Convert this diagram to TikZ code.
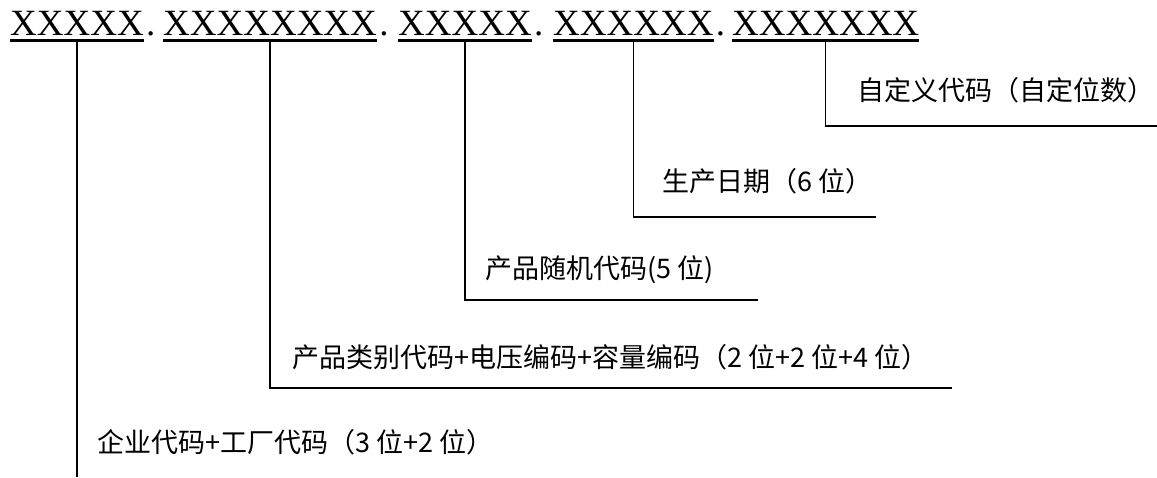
\documentclass[tikz,border=0pt]{standalone}
\usepackage{fontspec}
\setmainfont{Liberation Serif}
\newfontfamily\cjk{Noto Sans CJK SC}
\usetikzlibrary{positioning}
\tikzset{>=stealth}
\tikzset{
  code/.style={inner sep=0pt,anchor=base west,font=\fontsize{37}{40}\selectfont},
  note/.style={inner sep=0pt,anchor=west,font=\cjk\fontsize{27}{30}\selectfont},
  uline/.style={line width=3pt},
  lead/.style={line width=1.5pt}
}

\begin{document}
\begin{tikzpicture}[x=1pt,y=-1pt]
        \useasboundingbox (0,0) rectangle (1157,477);
        % code groups
        \node[code] (g1) at (10,35) {XXXXX};
        \node[code] (g2) at (163,35) {XXXXXXXX};
        \node[code] (g3) at (398,35) {XXXXX};
        \node[code] (g4) at (553,35) {XXXXXX};
        \node[code] (g5) at (732,35) {XXXXXXX};
        \foreach \g in {1,2,3,4} {
          \node[code] (d\g) at ([xshift=2pt]g\g.base east) {.};
        }
        \foreach \g in {g1,g2,g3,g4,g5} {
          \draw[uline] ([yshift=-5pt]\g.south west) -- ([yshift=-5pt]\g.south east);
        }

        \coordinate (e1) at (79,477);
        \coordinate (e2) at (952,388);
        \coordinate (e3) at (758,300);
        \coordinate (e4) at (876,217);
        \coordinate (e5) at (1157,126);

	\draw[lead] ([yshift=-6pt]g1.south) -- (g1.south |- e1);
	\draw[lead] ([yshift=-6pt]g2.south) |- (e2);
	\draw[lead] ([yshift=-6pt]g3.south) |- (e3);
	\draw[lead] ([yshift=-6pt]g4.south) |- (e4);
	\draw[lead] ([yshift=-6pt]g5.south) |- (e5);

        \node[note] (n1) at (97,442) {企业代码+工厂代码（3 位+2 位）};
        \node[note] (n2) at (292,357) {产品类别代码+电压编码+容量编码（2 位+2 位+4 位）};
        \node[note] (n3) at (485,270) {产品随机代码(5 位)};
        \node[note] (n4) at (662,181) {生产日期（6 位）};
        \node[note] (n5) at (857,90) {自定义代码（自定位数）};
    \end{tikzpicture}
\end{document}
